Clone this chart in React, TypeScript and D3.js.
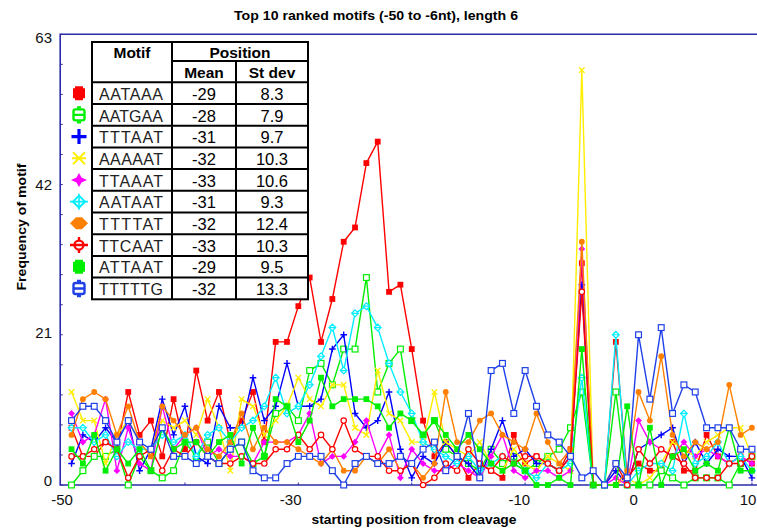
import React from 'react';
import * as d3 from 'd3';

// positions -50 .. 10
const positions = d3.range(-50, 11);

const motifs = ['AATAAA', 'AATGAA', 'TTTAAT', 'AAAAAT', 'TTAAAT', 'AATAAT', 'TTTTAT', 'TTCAAT', 'ATTAAT', 'TTTTTG'];
const means = ['-29', '-28', '-31', '-32', '-33', '-31', '-32', '-33', '-29', '-32'];
const stdevs = ['8.3', '7.9', '9.7', '10.3', '10.6', '9.3', '12.4', '10.3', '9.5', '13.3'];
const colors = ['#ff0000', '#00ee00', '#0000ff', '#ffee00', '#ff00ff', '#00eeff', '#ff8000', '#ff0000', '#00ee00', '#2040e8'];
const markerTypes = ['square', 'squareOpen', 'plus', 'cross', 'diamond', 'diamondOpen', 'circle', 'circleOpen', 'square', 'squareOpen'];

const aataaa = [8,4,4,6,5,13,7,9,4,12, 5,16,9,13,6,9,13,6,20,20, 25,29,20,26,34,36,45,48,27,28, 19,9,4,6,4,1,3,2,1,7, 3,4,3,2,5,31,0,0,20,1, 3,2,2,6,2,2,7,4,3,4, 3];
const aatgaa = [0,2,4,4,5,0,4,2,1,2, 6,4,6,3,5,6,3,4,10,11, 9,16,17,14,19,19,29,13,17,19, 9,7,9,5,4,3,2,5,3,4, 2,3,4,5,8,13,0,0,13,0, 0,0,2,1,0,1,1,1,0,3, 4];
const tttaat = [3,7,6,8,6,9,2,5,12,7, 11,4,3,11,8,8,15,9,11,17, 11,11,12,19,21,10,8,9,13,5, 1,4,3,6,4,3,1,5,9,4, 5,3,3,2,4,28,0,0,2,0, 5,6,7,8,3,6,3,5,4,4, 1];
const aaaaat = [13,9,9,3,7,9,6,4,9,8, 9,7,12,8,2,12,11,7,9,11, 15,12,11,14,14,8,7,16,10,9, 6,6,13,6,5,4,6,3,2,5, 3,2,4,3,2,58,0,0,0,1, 0,1,3,6,5,4,6,7,8,8, 4];
const ttaaat = [10,6,7,12,2,8,3,2,11,5, 7,8,4,5,4,4,3,6,6,6, 7,10,3,4,4,6,9,4,7,1, 5,3,2,2,3,2,1,4,7,2, 1,2,2,1,2,33,0,0,1,0, 9,6,5,4,6,4,5,4,3,4, 3];
const aataat = [8,8,6,7,4,6,5,5,7,6, 7,4,7,8,6,8,9,11,15,10, 11,14,18,22,16,24,25,22,17,13, 10,6,5,4,3,4,2,3,4,3, 2,1,3,2,3,15,0,0,21,0, 2,3,3,2,10,3,4,6,3,4, 2];
const ttttat = [7,12,13,12,7,11,6,4,11,9, 7,8,5,4,6,10,5,8,6,6, 5,4,3,5,2,2,4,3,5,2, 3,1,3,13,6,6,9,10,7,6, 5,10,6,3,5,34,0,0,0,2, 13,9,18,7,4,6,5,6,14,7, 8];
const ttcaat = [4,4,5,6,5,1,4,5,2,5, 4,6,4,3,3,4,3,3,5,5, 7,5,7,5,9,5,4,4,2,2, 3,0,1,3,2,5,3,2,4,3, 4,4,3,2,4,27,0,0,3,0, 5,3,5,4,3,1,1,1,3,3, 4];
const attaat = [5,3,7,2,5,3,5,2,8,5, 6,6,4,6,7,3,8,4,12,11, 6,9,15,11,12,12,12,11,8,10, 9,7,9,7,5,7,5,3,2,3, 2,0,0,1,0,19,0,0,0,11, 0,8,0,4,5,2,3,2,8,2, 2];
const tttttg = [9,11,11,9,6,9,6,5,8,4, 4,3,4,3,5,6,2,1,1,3, 4,4,4,2,0,3,4,3,3,4, 3,5,6,2,4,10,1,16,17,10, 16,11,7,6,4,1,2,0,3,1, 21,12,22,10,14,13,8,8,8,5, 5];

const series = [aataaa, aatgaa, tttaat, aaaaat, ttaaat, aataat, ttttat, ttcaat, attaat, tttttg];

const xTicks = [-50, -30, -10, 0, 10];
const yTicks = [0, 21, 42, 63];

const W = 757, H = 529;
const axisColor = '#2b2ba8';

// small marker drawn on the data points
function PointMarker({ type, color, x, y }: { type: string; color: string; x: number; y: number }) {
  const s = 2.9;
  switch (type) {
    case 'square':
      return <rect x={x - s} y={y - s} width={2 * s} height={2 * s} fill={color} />;
    case 'squareOpen':
      return <rect x={x - s} y={y - s} width={2 * s} height={2 * s} fill="#fff" stroke={color} strokeWidth={1.2} />;
    case 'plus':
      return <path d={`M${x - 3.3},${y}H${x + 3.3}M${x},${y - 3.3}V${y + 3.3}`} stroke={color} strokeWidth={1.4} />;
    case 'cross':
      return <path d={`M${x - 2.8},${y - 2.8}L${x + 2.8},${y + 2.8}M${x - 2.8},${y + 2.8}L${x + 2.8},${y - 2.8}`} stroke={color} strokeWidth={1.3} />;
    case 'diamond':
      return <path d={`M${x},${y - 3.4}L${x + 3.4},${y}L${x},${y + 3.4}L${x - 3.4},${y}Z`} fill={color} />;
    case 'diamondOpen':
      return <path d={`M${x},${y - 3.4}L${x + 3.4},${y}L${x},${y + 3.4}L${x - 3.4},${y}ZM${x - 3.6},${y}H${x + 3.6}`} fill="#fff" stroke={color} strokeWidth={1.2} />;
    case 'circle':
      return <circle cx={x} cy={y} r={2.9} fill={color} />;
    default:
      return <circle cx={x} cy={y} r={2.7} fill="#fff" stroke={color} strokeWidth={1.2} />;
  }
}

// large marker used in the legend column
function LegendMarker({ type, color, x, y }: { type: string; color: string; x: number; y: number }) {
  const notch = `M${x - 4},${y - 7}H${x + 4}V${y - 5}H${x + 6}V${y + 5}H${x + 4}V${y + 7}H${x - 4}V${y + 5}H${x - 6}V${y - 5}H${x - 4}Z`;
  switch (type) {
    case 'square':
      return <path d={notch} fill={color} />;
    case 'squareOpen':
      return <g fill="none" stroke={color} strokeWidth={2.4}>
        <rect x={x - 5.5} y={y - 5.5} width={11} height={11} rx={2} />
        <path d={`M${x - 5.5},${y}H${x + 5.5}M${x - 2},${y - 7.5}H${x + 2}M${x - 2},${y + 7.5}H${x + 2}`} />
      </g>;
    case 'plus':
      return <path d={`M${x - 7.5},${y}H${x + 7.5}M${x},${y - 7.5}V${y + 7.5}`} stroke={color} strokeWidth={3.2} />;
    case 'cross':
      return <path d={`M${x - 6},${y - 6}L${x + 6},${y + 6}M${x - 6},${y + 6}L${x + 6},${y - 6}M${x - 7},${y}H${x + 7}`} stroke={color} strokeWidth={1.8} />;
    case 'diamond':
      return <path d={`M${x},${y - 7}L${x + 2.5},${y - 2.5}L${x + 8},${y}L${x + 2.5},${y + 2.5}L${x},${y + 7}L${x - 2.5},${y + 2.5}L${x - 8},${y}L${x - 2.5},${y - 2.5}Z`} fill={color} />;
    case 'diamondOpen':
      return <g fill="none" stroke={color} strokeWidth={2}>
        <path d={`M${x},${y - 6}L${x + 6},${y}L${x},${y + 6}L${x - 6},${y}Z`} />
        <path d={`M${x - 9},${y}H${x + 9}M${x},${y - 8}V${y + 8}`} strokeWidth={1.6} />
      </g>;
    case 'circle':
      return <path d={`M${x - 9},${y}L${x - 3},${y - 6}H${x + 3}L${x + 9},${y}L${x + 3},${y + 6}H${x - 3}Z`} fill={color} />;
    default:
      return <g fill="none" stroke={color}>
        <circle cx={x} cy={y} r={4.5} strokeWidth={2.2} />
        <path d={`M${x - 9},${y}H${x + 9}M${x},${y - 8}V${y - 4}M${x},${y + 4}V${y + 8}`} strokeWidth={2.4} />
      </g>;
  }
}

export default function App() {
  const x = d3.scaleLinear().domain([-51, 11]).range([60.2, 60.2 + 62 * 11.34]);
  const y = d3.scaleLinear().domain([0, 63]).range([485, 34.3]);
  // tick labels sit slightly apart from the tick marks in the original
  const xLabel = d3.scaleLinear().domain([-50, 10]).range([62, 748]);
  const yLabel = d3.scaleLinear().domain([0, 63]).range([480, 37]);

  const line = d3.line<number>().x((d, i) => x(positions[i])).y(d => y(d));

  const minorY = d3.range(0, 63.01, 4.2);
  const minorX = d3.range(-40, 11, 10);

  // table geometry
  const colX = [92, 172, 236, 308];
  const top = 42, sub = 61, bodyTop = 82.3, rowH = 21.7;
  const rows = d3.range(motifs.length);
  const bottom = bodyTop + rowH * motifs.length;

  return (
    <svg width={W} height={H} style={{ position: 'absolute', left: 0, top: 0, background: '#fff' }}>
      <rect width={W} height={H} fill="#fff" />
      <text x={376} y={20} textAnchor="middle" fontFamily="Liberation Sans, Arial, sans-serif" fontWeight="bold" fontSize={12.5} textLength={284} lengthAdjust="spacingAndGlyphs">Top 10 ranked motifs (-50 to -6nt), length 6</text>

      {/* frame */}
      <path d={`M${W},${y(63)}H${x(-51)}V${y(0)}H${W}`} fill="none" stroke={axisColor} strokeWidth={1.6} />
      {minorY.map(v => <line key={'my' + v} x1={x(-51)} x2={x(-51) + 2.5} y1={y(v)} y2={y(v)} stroke={axisColor} strokeWidth={1} />)}
      {minorX.map(v => <line key={'mx' + v} x1={x(v)} x2={x(v)} y1={y(0)} y2={y(0) - 2.5} stroke={axisColor} strokeWidth={1} />)}

      {yTicks.map(v => <text key={'yt' + v} x={52} y={yLabel(v) + 5.5} textAnchor="end" fontFamily="Liberation Sans, Arial, sans-serif" fontSize={15} fill="#111">{v}</text>)}
      {xTicks.map(v => <text key={'xt' + v} x={xLabel(v)} y={505} textAnchor="middle" fontFamily="Liberation Sans, Arial, sans-serif" fontSize={15} fill="#111">{v}</text>)}

      <text x={414} y={524} textAnchor="middle" fontFamily="Liberation Sans, Arial, sans-serif" fontWeight="bold" fontSize={13} textLength={205} lengthAdjust="spacingAndGlyphs">starting position from cleavage</text>
      <text transform="translate(26,227) rotate(-90)" textAnchor="middle" fontFamily="Liberation Sans, Arial, sans-serif" fontWeight="bold" fontSize={13.5} textLength={127} lengthAdjust="spacingAndGlyphs">Frequency of motif</text>

      {/* series */}
      {series.map((s, k) => (
        <g key={'s' + k}>
          <path d={line(s) || ''} fill="none" stroke={colors[k]} strokeWidth={1.4} strokeLinejoin="round" />
          {s.map((v, i) => <PointMarker key={i} type={markerTypes[k]} color={colors[k]} x={x(positions[i])} y={y(v)} />)}
        </g>
      ))}

      {/* table */}
      <g fontFamily="Liberation Sans, Arial, sans-serif" fill="#000">
        <rect x={colX[0]} y={top} width={colX[3] - colX[0]} height={bottom - top} fill="#fff" stroke="#000" strokeWidth={2} />
        <line x1={colX[1]} x2={colX[1]} y1={top} y2={bottom} stroke="#000" strokeWidth={2} />
        <line x1={colX[2]} x2={colX[2]} y1={sub} y2={bottom} stroke="#000" strokeWidth={2} />
        <line x1={colX[1]} x2={colX[3]} y1={sub} y2={sub} stroke="#000" strokeWidth={2} />
        {d3.range(motifs.length).map(r => (
          <line key={'h' + r} x1={colX[0]} x2={colX[3]} y1={bodyTop + r * rowH} y2={bodyTop + r * rowH} stroke="#000" strokeWidth={2} />
        ))}
        <text x={(colX[0] + colX[1]) / 2} y={58} textAnchor="middle" fontWeight="bold" fontSize={15.5}>Motif</text>
        <text x={(colX[1] + colX[3]) / 2} y={58} textAnchor="middle" fontWeight="bold" fontSize={15.5}>Position</text>
        <text x={(colX[1] + colX[2]) / 2} y={77.5} textAnchor="middle" fontWeight="bold" fontSize={15.5}>Mean</text>
        <text x={(colX[2] + colX[3]) / 2} y={77.5} textAnchor="middle" fontWeight="bold" fontSize={15.5}>St dev</text>
        {rows.map(r => (
          <g key={'r' + r}>
            <text x={99} y={bodyTop + r * rowH + 17.5} fontSize={16} textLength={64} lengthAdjust="spacing" fill="#222">{motifs[r]}</text>
            <text x={(colX[1] + colX[2]) / 2} y={bodyTop + r * rowH + 17.5} textAnchor="middle" fontSize={16.5}>{means[r]}</text>
            <text x={(colX[2] + colX[3]) / 2} y={bodyTop + r * rowH + 17.5} textAnchor="middle" fontSize={16.5}>{stdevs[r]}</text>
            <LegendMarker type={markerTypes[r]} color={colors[r]} x={79} y={bodyTop + (r + 0.5) * rowH} />
          </g>
        ))}
      </g>
    </svg>
  );
}
